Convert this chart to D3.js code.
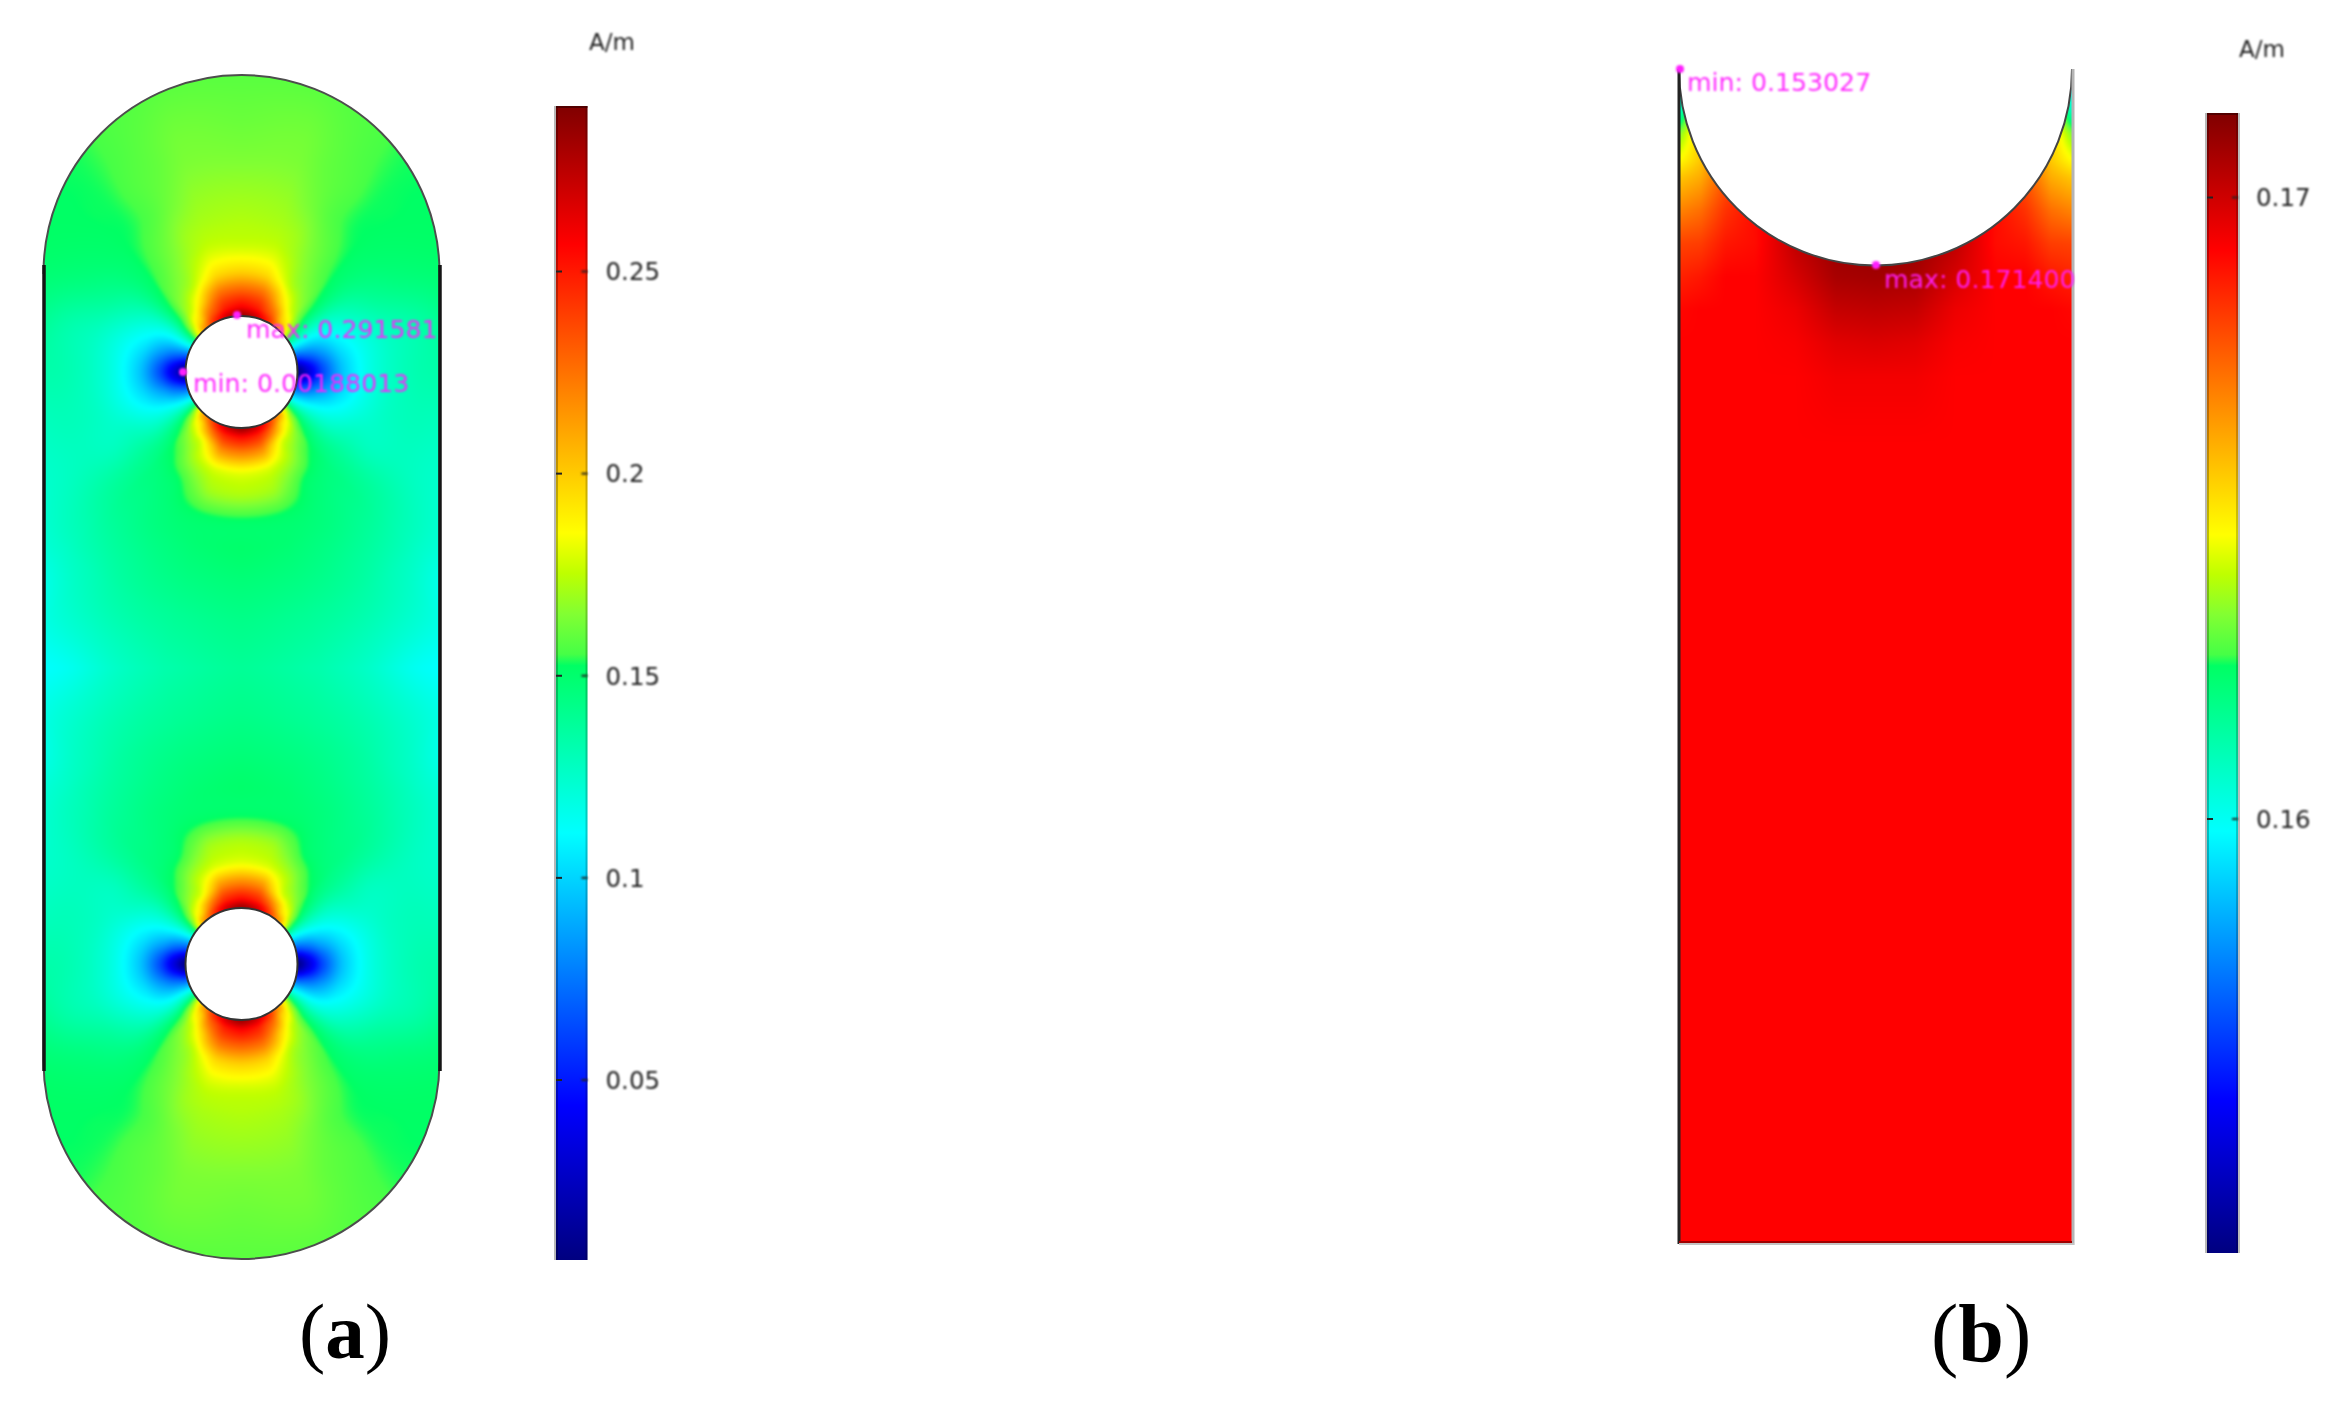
<!DOCTYPE html>
<html><head><meta charset="utf-8">
<script src="https://cdn.jsdelivr.net/npm/d3@7"></script>
<style>
html,body{margin:0;padding:0;background:#fff;width:2352px;height:1406px;overflow:hidden}
canvas,svg{position:absolute;left:0;top:0}
.soft{filter:blur(0.8px)}
</style></head><body>
<canvas id="field" width="2352" height="1406"></canvas>
<svg id="chart" width="2352" height="1406" xmlns="http://www.w3.org/2000/svg"></svg>
<script>
// ---------- data ----------
const unitLabel = "A/m";
const ticksA = [0.05, 0.1, 0.15, 0.2, 0.25];
const tickLabelsA = ["0.05", "0.1", "0.15", "0.2", "0.25"];
const ticksB = [0.16, 0.17];
const tickLabelsB = ["0.16", "0.17"];
const rangeA = [0.00188013, 0.291581];
const rangeB = [0.153027, 0.1714];
const minLabelA = "min: 0.00188013", maxLabelA = "max: 0.291581";
const minLabelB = "min: 0.153027", maxLabelB = "max: 0.171400";

// rainbow colour table: position along the bar, colour
const rampPos = [0, 0.134, 0.37, 0.515, 0.525, 0.56, 0.595, 0.63, 0.755, 0.88, 1];
const rampCol = ["#000080","#0000ff","#00ffff","#00ff64","#46ff46","#82ff32","#beff00","#ffff00","#ff8000","#ff0000","#800000"];

// panel (a): |H| around a hole, by distance from its centre (rows: angle from the midline side)
const holeRadii = [56, 65, 80, 100, 125, 150, 180, 215, 250, 300, 360];
const holeAngles = [0, 15, 22.5, 30, 37.5, 45, 60, 75, 90, 105, 120, 135, 142.5, 150, 157.5, 165, 180];
const holeField = [
 [.285,.255,.222,.182,.170,.150,.149,.145,.141,.137,.134],
 [.272,.248,.217,.180,.168,.150,.147,.143,.138,.132,.125],
 [.258,.236,.198,.175,.160,.149,.145,.141,.136,.128,.119],
 [.240,.218,.180,.168,.151,.146,.143,.138,.133,.124,.110],
 [.222,.195,.172,.157,.147,.143,.140,.135,.128,.120,.109],
 [.198,.178,.158,.147,.142,.140,.137,.131,.124,.112,.108],
 [.118,.118,.120,.122,.127,.126,.127,.124,.120,.117,.112],
 [.060,.068,.085,.102,.116,.125,.128,.126,.125,.120,.115],
 [.005,.025,.058,.092,.114,.125,.131,.132,.132,.132,.132],
 [.060,.068,.082,.102,.116,.126,.132,.140,.142,.142,.142],
 [.125,.122,.118,.122,.130,.138,.144,.148,.150,.150,.150],
 [.198,.182,.163,.155,.150,.149,.150,.151,.151,.152,.152],
 [.222,.200,.178,.165,.158,.155,.152,.152,.152,.152,.152],
 [.242,.225,.195,.172,.165,.161,.156,.156,.155,.155,.155],
 [.258,.238,.215,.184,.172,.168,.162,.159,.158,.156,.155],
 [.272,.250,.228,.195,.177,.171,.167,.163,.161,.157,.155],
 [.285,.258,.232,.198,.177,.172,.168,.163,.160,.157,.155]
];

// panel (b): |H| on a grid, columns = distance from the axis, rows = height in the strip
const stripCols = [0, 40, 80, 120, 150, 175, 197];
const stripRows = [0, 24, 41, 64, 91, 108, 141, 174, 208, 241, 274, 308, 341, 374, 1174];
const stripField = [
 [.1711,.1710,.1703,.1690,.1680,.1656,.1530],
 [.1711,.1710,.1703,.1690,.1680,.1656,.1598],
 [.1711,.1710,.1703,.1690,.1680,.1656,.1605],
 [.1711,.1710,.1703,.1690,.1680,.1656,.1632],
 [.1711,.1710,.1703,.1690,.1680,.1656,.1646],
 [.1711,.1710,.1703,.1690,.1677,.1661,.1656],
 [.1711,.1710,.1703,.1690,.1683,.1672,.1668],
 [.1711,.1710,.1703,.1690,.1688,.1681,.1680],
 [.1708,.1707,.1699,.1692,.1692,.1688,.1686],
 [.1703,.1702,.1695,.1692,.1692,.1692,.1691],
 [.1698,.1697,.1693,.1692,.1692,.1692,.1692],
 [.1694,.1694,.1692,.1692,.1692,.1692,.1692],
 [.1693,.1693,.1692,.1692,.1692,.1692,.1692],
 [.1692,.1692,.1692,.1692,.1692,.1692,.1692],
 [.1692,.1692,.1692,.1692,.1692,.1692,.1692]
];

// ---------- layout ----------
const A = {cx:241.5, left:44, right:440, top:75, bottom:1259, capR:198, h1:372, h2:964, hr:56, mid:668,
           bar:{x0:556, x1:587.5, y0:106, y1:1260}};
const B = {cx:1875.5, left:1679, right:2072, top:69, bottom:1243, r:196.5,
           bar:{x0:2207, x1:2238, y0:113, y1:1253}};

const yA = d3.scaleLinear().domain([0.05,0.25]).range([1079.5,271]);
const yB = d3.scaleLinear().domain([0.16,0.17]).range([818.5,197]);

const colorRamp = d3.scaleLinear().domain(rampPos).range(rampCol).interpolate(d3.interpolateRgb).clamp(true);
const fracA = d3.scaleLinear().domain(rangeA).range([0,1]);
const fracB = d3.scaleLinear().domain(rangeB).range([0,1]);

const idx = dom => d3.scaleLinear().domain(dom).range(dom.map((d,i)=>i)).clamp(true);
const rIdx = idx(holeRadii), tIdx = idx(holeAngles), cIdx = idx(stripCols), wIdx = idx(stripRows);
function bilerp(tab, i, j){
  const i0=Math.floor(i), j0=Math.floor(j), i1=Math.min(i0+1,tab.length-1), j1=Math.min(j0+1,tab[0].length-1);
  const u=i-i0, v=j-j0;
  return (tab[i0][j0]*(1-v)+tab[i0][j1]*v)*(1-u)+(tab[i1][j0]*(1-v)+tab[i1][j1]*v)*u;
}
// smooth shading between the table's cells
function cr(a,b,c,d,t){return 0.5*(2*b+(c-a)*t+(2*a-5*b+4*c-d)*t*t+(3*b-a-3*c+d)*t*t*t);}
function bicubic(tab,i,j){
  const n=tab.length, m=tab[0].length, i0=Math.floor(i), j0=Math.floor(j), u=i-i0, v=j-j0;
  const row=k=>{
    const R=tab[Math.max(0,Math.min(n-1,k))];
    return cr(R[Math.max(0,j0-1)],R[j0],R[Math.min(m-1,j0+1)],R[Math.min(m-1,j0+2)],v);
  };
  return cr(row(i0-1),row(i0),row(i0+1),row(i0+2),u);
}
function valueA(x,y){
  const dx=Math.abs(x-A.cx), yy = y<A.mid ? 2*A.mid-y : y, dy=yy-A.h2;
  const r=Math.hypot(dx,dy), th=Math.atan2(dx,-dy)*180/Math.PI;
  return bicubic(holeField,tIdx(th),rIdx(r));
}
function valueB(x,y){
  return bilerp(stripField,wIdx(y-B.top),cIdx(Math.abs(x-B.cx)));
}

// shapes
function shapeA(){
  const p=d3.path();
  p.moveTo(A.left,A.top+A.capR);
  p.arc(A.cx,A.top+A.capR,A.capR,Math.PI,2*Math.PI);
  p.lineTo(A.cx+A.capR,A.bottom-A.capR);
  p.arc(A.cx,A.bottom-A.capR,A.capR,0,Math.PI);
  p.closePath();
  return p.toString();
}
function circleP(cx,cy,r){const p=d3.path();p.moveTo(cx+r,cy);p.arc(cx,cy,r,0,2*Math.PI);p.closePath();return p.toString();}
function shapeB(){
  const p=d3.path();
  p.moveTo(B.left,B.top);
  p.arc(B.cx,B.top,B.r,Math.PI,0,true);
  p.lineTo(B.right,B.bottom);
  p.lineTo(B.left,B.bottom);
  p.closePath();
  return p.toString();
}

// ---------- field painting ----------
const ctx=document.getElementById('field').getContext('2d');
function paint(x0,y0,w,h,val,frac,clipD){
  const off=document.createElement('canvas');off.width=w;off.height=h;
  const oc=off.getContext('2d'), img=oc.createImageData(w,h);
  for(let j=0;j<h;j++)for(let i=0;i<w;i++){
    const c=d3.rgb(colorRamp(frac(val(x0+i+.5,y0+j+.5)))), k=4*(j*w+i);
    img.data[k]=c.r;img.data[k+1]=c.g;img.data[k+2]=c.b;img.data[k+3]=255;
  }
  oc.putImageData(img,0,0);
  ctx.save();
  ctx.clip(new Path2D(clipD),'evenodd');
  ctx.filter='blur(1.5px)';
  ctx.drawImage(off,x0,y0);
  ctx.restore();
}
paint(30,60,425,1210,valueA,fracA,shapeA()+circleP(A.cx,A.h1,A.hr)+circleP(A.cx,A.h2,A.hr));
paint(1665,55,420,1200,valueB,fracB,shapeB());

// ---------- svg overlay ----------
const svg=d3.select('#chart');
const defs=svg.append('defs');
function gradient(id){
  const g=defs.append('linearGradient').attr('id',id).attr('x1',0).attr('x2',0).attr('y1',1).attr('y2',0);
  g.selectAll('stop').data(rampPos).join('stop')
   .attr('offset',d=>d).attr('stop-color',(d,i)=>rampCol[i]);
}
gradient('rampA');gradient('rampB');

const geom=svg.append('g').attr('fill','none');
// panel a outline
geom.append('path').attr('d',shapeA()).attr('stroke','#4d4d4d').attr('stroke-width',2);
[A.left,A.right].forEach(x=>geom.append('line').attr('x1',x).attr('x2',x)
  .attr('y1',A.top+A.capR-8).attr('y2',A.bottom-A.capR+10).attr('stroke','#151515').attr('stroke-width',3.5));
[A.h1,A.h2].forEach(c=>geom.append('path').attr('d',circleP(A.cx,c,A.hr)).attr('stroke','#333').attr('stroke-width',2).attr('fill','#fff'));
// panel b outline
geom.append('path').attr('d',(()=>{const p=d3.path();p.moveTo(B.left,B.top);p.arc(B.cx,B.top,B.r,Math.PI,0,true);return p.toString();})())
  .attr('stroke','#444').attr('stroke-width',2);
geom.append('line').attr('x1',B.left).attr('x2',B.left).attr('y1',B.top).attr('y2',B.bottom+1).attr('stroke','#222').attr('stroke-width',3);
geom.append('line').attr('x1',B.right+1).attr('x2',B.right+1).attr('y1',B.top).attr('y2',B.bottom+2).attr('stroke','#b4b4b4').attr('stroke-width',3);
geom.append('line').attr('x1',B.left).attr('x2',B.right).attr('y1',B.bottom-1).attr('y2',B.bottom-1).attr('stroke','#a00000').attr('stroke-width',2);
geom.append('line').attr('x1',B.left).attr('x2',B.right+2).attr('y1',B.bottom+1).attr('y2',B.bottom+1).attr('stroke','#c4c4c4').attr('stroke-width',2);

function colorbar(bar,scale,ticks,labels,id,unitX,unitY,greyRight){
  const g=svg.append('g');
  g.append('rect').attr('x',bar.x0-2).attr('y',bar.y0).attr('width',2.5).attr('height',bar.y1-bar.y0).attr('fill','#b8b8b8');
  if(greyRight) g.append('rect').attr('x',bar.x1-.5).attr('y',bar.y0).attr('width',2.5).attr('height',bar.y1-bar.y0).attr('fill','#bbb');
  g.append('rect').attr('x',bar.x0).attr('y',bar.y0).attr('width',bar.x1-bar.x0).attr('height',bar.y1-bar.y0).attr('fill',`url(#${id})`);
  g.append('rect').attr('x',bar.x0).attr('y',bar.y0).attr('width',2).attr('height',bar.y1-bar.y0).attr('fill','#000').attr('opacity',.25);
  g.append('rect').attr('x',bar.x1-2).attr('y',bar.y0).attr('width',2).attr('height',bar.y1-bar.y0).attr('fill','#000').attr('opacity',.2);
  g.append('rect').attr('x',bar.x0).attr('y',bar.y0).attr('width',bar.x1-bar.x0).attr('height',2).attr('fill','#300').attr('opacity',.6);
  const right=d3.axisRight(scale).tickValues(ticks).tickSize(-6).tickPadding(18).tickFormat((d,i)=>labels[i]);
  const ax=g.append('g').attr('class','soft').attr('transform',`translate(${bar.x1},0)`).call(right);
  ax.select('.domain').remove();
  ax.selectAll('line').attr('stroke','#222').attr('stroke-width',2);
  ax.selectAll('text').attr('font-family','DejaVu Sans').attr('font-size',24.5).attr('fill','#222').attr('dy','0.36em');
  const left=d3.axisLeft(scale).tickValues(ticks).tickSize(-6).tickFormat('');
  const al=g.append('g').attr('transform',`translate(${bar.x0},0)`).call(left);
  al.select('.domain').remove();
  al.selectAll('line').attr('stroke','#222').attr('stroke-width',2);
  g.append('text').attr('class','soft').attr('x',unitX).attr('y',unitY).text(unitLabel)
   .attr('font-family','DejaVu Sans').attr('font-size',23).attr('fill','#222');
}
colorbar(A.bar,yA,ticksA,tickLabelsA,'rampA',589,50,false);
colorbar(B.bar,yB,ticksB,tickLabelsB,'rampB',2239,57,true);

// min / max annotations
const notes=[
 {t:maxLabelA,x:246,y:338,mx:237,my:315},
 {t:minLabelA,x:193,y:392,mx:183,my:372},
 {t:minLabelB,x:1687,y:91,mx:1680,my:69},
 {t:maxLabelB,x:1884,y:288,mx:1876,my:265}
];
const ng=svg.append('g').attr('class','soft');
ng.selectAll('text').data(notes).join('text').text(d=>d.t).attr('x',d=>d.x).attr('y',d=>d.y)
  .attr('font-family','DejaVu Sans').attr('font-size',25.2).attr('fill','#ff20ff').attr('opacity',.95);
ng.selectAll('circle').data(notes).join('circle').attr('cx',d=>d.mx).attr('cy',d=>d.my).attr('r',4).attr('fill','#ff20ff');

// captions
function caption(letter,x,y,size){
  const t=svg.append('text').attr('x',x).attr('y',y).attr('font-family','Liberation Serif').attr('font-size',size).attr('fill','#000');
  t.append('tspan').text('(');
  t.append('tspan').attr('font-weight','bold').text(letter);
  t.append('tspan').text(')');
}
caption('a',299,1358,79);
caption('b',1931,1361,82);
</script>
</body></html>
